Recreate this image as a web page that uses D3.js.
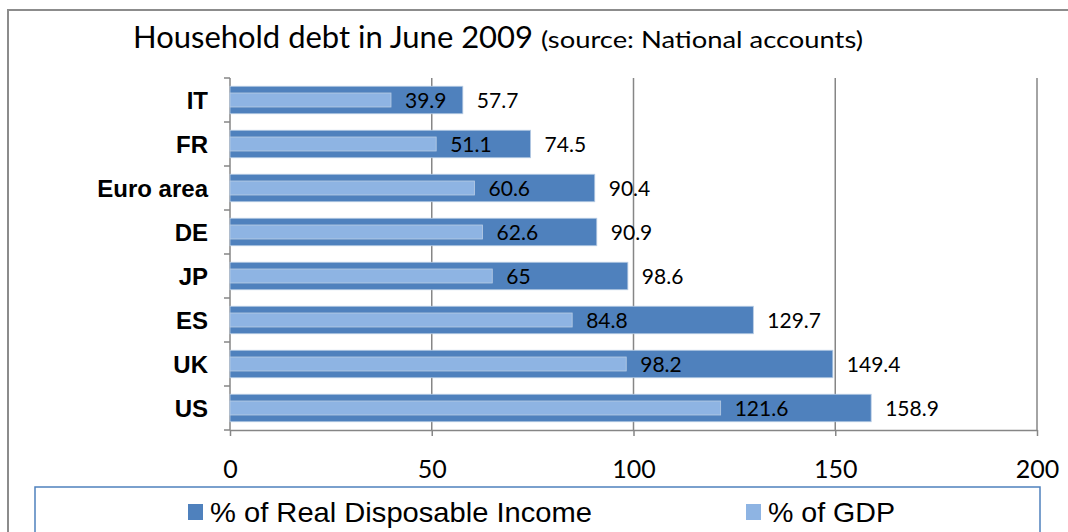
<!DOCTYPE html>
<html>
<head>
<meta charset="utf-8">
<script src="https://cdn.jsdelivr.net/npm/d3@7"></script>
<style>
  html, body { margin: 0; padding: 0; background: #ffffff; }
  svg { display: block; }
</style>
</head>
<body>
<svg id="chart" width="1068" height="532"></svg>
<script>
// Household debt by country, June 2009
const categories = ["IT", "FR", "Euro area", "DE", "JP", "ES", "UK", "US"];
const incomeShare = [57.7, 74.5, 90.4, 90.9, 98.6, 129.7, 149.4, 158.9];
const gdpShare = [39.9, 51.1, 60.6, 62.6, 65, 84.8, 98.2, 121.6];
const xTicks = [0, 50, 100, 150, 200];
const seriesNames = ["% of Real Disposable Income", "% of GDP"];

const DARK = "#4f81bd";
const LIGHT = "#8eb4e3";
const AXIS = "#868686";
const NUM_FONT = "Lato, 'Open Sans', sans-serif";
const CAT_FONT = "'Liberation Sans', Arial, sans-serif";

const svg = d3.select("#chart");

// outer chart frame (only top and left edges are visible)
svg.append("path")
  .attr("d", "M8,532 L8,10 L1068,10")
  .attr("fill", "none")
  .attr("stroke", "#8c8c8c")
  .attr("stroke-width", 2);

// title and source note
svg.append("text")
  .attr("x", 133).attr("y", 48)
  .attr("font-family", NUM_FONT).attr("font-size", 30)
  .attr("textLength", 400).attr("lengthAdjust", "spacingAndGlyphs")
  .attr("fill", "#000")
  .text("Household debt in June 2009");
svg.append("text")
  .attr("x", 541).attr("y", 48)
  .attr("font-family", NUM_FONT).attr("font-size", 24)
  .attr("textLength", 322).attr("lengthAdjust", "spacingAndGlyphs")
  .attr("fill", "#000")
  .text("(source: National accounts)");

// scales
const x = d3.scaleLinear().domain([0, 200]).range([230, 1037]);
const y = d3.scaleBand().domain(categories).range([78, 430]).paddingInner(0.375).paddingOuter(0.1875);

// vertical gridlines
svg.append("g")
  .selectAll("line")
  .data(xTicks.filter(d => d > 0))
  .join("line")
  .attr("x1", d => x(d)).attr("x2", d => x(d))
  .attr("y1", 78).attr("y2", 430)
  .attr("stroke", AXIS).attr("stroke-width", 1.5);

// bottom axis
const xAxis = svg.append("g")
  .attr("transform", "translate(0,430)")
  .call(d3.axisBottom(x).tickValues(xTicks).tickSize(6).tickPadding(24).tickSizeOuter(0));
xAxis.select(".domain").attr("stroke", AXIS).attr("stroke-width", 1.5);
xAxis.selectAll(".tick line").attr("stroke", AXIS).attr("stroke-width", 1.5);
xAxis.selectAll(".tick text")
  .attr("font-family", NUM_FONT).attr("font-size", 25).attr("fill", "#000");

// left axis: line with ticks at category boundaries
const step = y.step();
const boundaries = d3.range(categories.length + 1).map(i => 78 + i * step);
svg.append("line")
  .attr("x1", 230).attr("x2", 230).attr("y1", 78).attr("y2", 430)
  .attr("stroke", AXIS).attr("stroke-width", 1.5);
svg.append("g")
  .selectAll("line")
  .data(boundaries)
  .join("line")
  .attr("x1", 224).attr("x2", 230)
  .attr("y1", d => d).attr("y2", d => d)
  .attr("stroke", AXIS).attr("stroke-width", 1.5);

// category labels
svg.append("g")
  .selectAll("text")
  .data(categories)
  .join("text")
  .attr("x", 208)
  .attr("y", d => y(d) + y.bandwidth() / 2)
  .attr("dy", "0.36em")
  .attr("text-anchor", "end")
  .attr("font-family", CAT_FONT)
  .attr("font-weight", "bold")
  .attr("font-size", 24)
  .attr("fill", "#000")
  .text(d => d);

const rows = categories.map((c, i) => ({ cat: c, income: incomeShare[i], gdp: gdpShare[i] }));
const innerH = 14;

// dark bars: share of disposable income
svg.append("g")
  .selectAll("rect")
  .data(rows)
  .join("rect")
  .attr("x", x(0))
  .attr("y", d => y(d.cat))
  .attr("width", d => x(d.income) - x(0))
  .attr("height", y.bandwidth())
  .attr("fill", DARK)
  .attr("stroke", "#b8cce4").attr("stroke-width", 0.8);

// light bars: share of GDP
svg.append("g")
  .selectAll("rect")
  .data(rows)
  .join("rect")
  .attr("x", x(0))
  .attr("y", d => y(d.cat) + (y.bandwidth() - innerH) / 2)
  .attr("width", d => x(d.gdp) - x(0))
  .attr("height", innerH)
  .attr("fill", LIGHT)
  .attr("stroke", "#b8cce4").attr("stroke-width", 0.8);

// value labels
const labels = svg.append("g")
  .attr("font-family", NUM_FONT)
  .attr("font-size", 21)
  .attr("fill", "#000");
labels.selectAll("text.gdp")
  .data(rows)
  .join("text")
  .attr("class", "gdp")
  .attr("x", d => x(d.gdp) + 14)
  .attr("y", d => y(d.cat) + y.bandwidth() / 2)
  .attr("dy", "0.36em")
  .text(d => d.gdp);
labels.selectAll("text.income")
  .data(rows)
  .join("text")
  .attr("class", "income")
  .attr("x", d => x(d.income) + 14)
  .attr("y", d => y(d.cat) + y.bandwidth() / 2)
  .attr("dy", "0.36em")
  .text(d => d.income);

// legend
svg.append("rect")
  .attr("x", 35).attr("y", 487)
  .attr("width", 1005).attr("height", 60)
  .attr("fill", "#fff")
  .attr("stroke", DARK).attr("stroke-width", 1.5);

const legendItems = [
  { name: seriesNames[0], color: DARK, x: 188, len: 382 },
  { name: seriesNames[1], color: LIGHT, x: 746, len: 127 }
];
const leg = svg.append("g")
  .selectAll("g")
  .data(legendItems)
  .join("g")
  .attr("transform", d => `translate(${d.x},504)`);
leg.append("rect")
  .attr("width", 15).attr("height", 16)
  .attr("fill", d => d.color);
leg.append("text")
  .attr("x", 22).attr("y", 18)
  .attr("font-family", CAT_FONT)
  .attr("font-size", 28)
  .attr("textLength", d => d.len).attr("lengthAdjust", "spacingAndGlyphs")
  .attr("fill", "#000")
  .text(d => d.name);
</script>
</body>
</html>
